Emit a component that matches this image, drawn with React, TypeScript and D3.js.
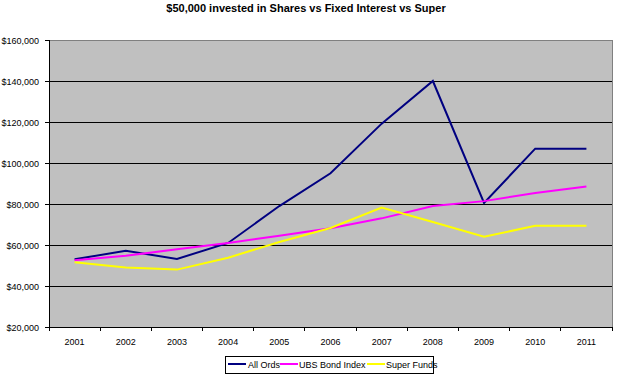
import React from "react";
import * as d3 from "d3";

const years = ["2001", "2002", "2003", "2004", "2005", "2006", "2007", "2008", "2009", "2010", "2011"];
const allOrds = [53000, 57200, 53200, 61000, 79000, 95000, 119200, 140000, 80500, 107000, 107000];
const ubsBond = [52600, 54700, 57900, 61000, 64500, 68200, 73000, 79000, 81400, 85400, 88500];
const superFunds = [51600, 49000, 48000, 53800, 61500, 68300, 78300, 71200, 64000, 69400, 69400];
const yTicks = [20000, 40000, 60000, 80000, 100000, 120000, 140000, 160000];
const seriesNames = ["All Ords", "UBS Bond Index", "Super Funds"];
const seriesColors = ["#000080", "#FF00FF", "#FFFF00"];

const W = 619;
const H = 378;
const L = 49;
const R = 612;
const T = 40;
const B = 327;
const FONT = "'Liberation Sans', Arial, sans-serif";

export default function App() {
  const x = d3.scaleBand<string>().domain(years).range([L, R]).padding(0);
  const y = d3.scaleLinear().domain([20000, 160000]).range([B, T]);
  const fmt = (v: number) => "$" + d3.format(",")(v);
  const line = d3
    .line<number>()
    .x((_, i) => (x(years[i]) as number) + x.bandwidth() / 2)
    .y((d) => y(d))
    .curve(d3.curveLinear);
  const series = [allOrds, ubsBond, superFunds];

  const legendItems = [
    { lx: 228, tx: 248 },
    { lx: 280, tx: 299 },
    { lx: 367, tx: 386 },
  ];

  return (
    <svg
      width={W}
      height={H}
      style={{ position: "fixed", left: 0, top: 0, background: "#fff" }}
      fontFamily={FONT}
    >
      <rect x={0} y={0} width={W} height={H} fill="#fff" />
      <text x={306} y={12} textAnchor="middle" fontSize={11} fontWeight="bold" fill="#000">
        $50,000 invested in Shares vs Fixed Interest vs Super
      </text>
      <rect x={L} y={T} width={R - L} height={B - T} fill="#C0C0C0" stroke="#808080" strokeWidth={1} shapeRendering="crispEdges" />
      {yTicks.slice(1, -1).map((t) => (
        <line key={"g" + t} x1={L} x2={R} y1={y(t)} y2={y(t)} stroke="#000" strokeWidth={1} shapeRendering="crispEdges" />
      ))}
      <line x1={L} x2={L} y1={T} y2={B} stroke="#000" strokeWidth={1} shapeRendering="crispEdges" />
      <line x1={L} x2={R} y1={B} y2={B} stroke="#000" strokeWidth={1} shapeRendering="crispEdges" />
      {yTicks.map((t) => (
        <g key={"y" + t}>
          <line x1={L - 4} x2={L} y1={y(t)} y2={y(t)} stroke="#000" shapeRendering="crispEdges" />
          <text x={39} y={y(t) + 3.5} textAnchor="end" fontSize={9} fill="#000">
            {fmt(t)}
          </text>
        </g>
      ))}
      {d3.range(years.length + 1).map((i) => {
        const xx = L + i * x.bandwidth();
        return <line key={"xt" + i} x1={xx} x2={xx} y1={B} y2={B + 4} stroke="#000" shapeRendering="crispEdges" />;
      })}
      {years.map((yr) => (
        <text key={yr} x={(x(yr) as number) + x.bandwidth() / 2} y={345} textAnchor="middle" fontSize={9} fill="#000">
          {yr}
        </text>
      ))}
      {series.map((s, i) => (
        <path key={"s" + i} d={line(s) || ""} fill="none" stroke={seriesColors[i]} strokeWidth={2} />
      ))}
      <rect x={225.5} y={356.5} width={208} height={17} fill="#fff" stroke="#000" strokeWidth={1} />
      {seriesNames.map((n, i) => (
        <g key={n}>
          <line x1={legendItems[i].lx} x2={legendItems[i].lx + 18} y1={364} y2={364} stroke={seriesColors[i]} strokeWidth={2} />
          <text x={legendItems[i].tx} y={368} fontSize={9} fill="#000">
            {n}
          </text>
        </g>
      ))}
    </svg>
  );
}
